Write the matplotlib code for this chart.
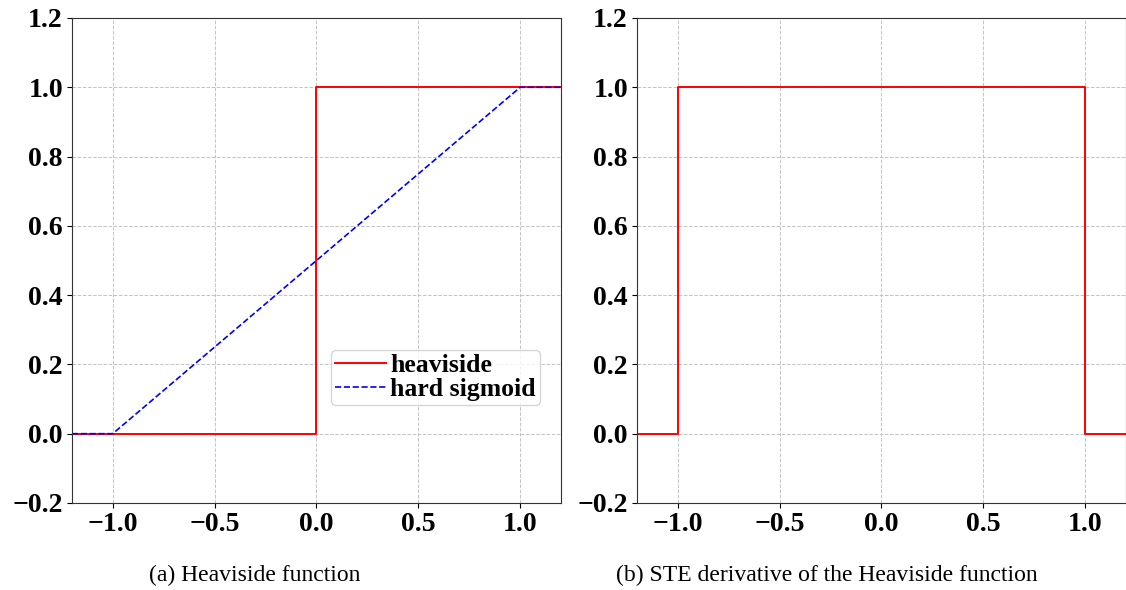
import matplotlib
matplotlib.use("Agg")
import matplotlib.pyplot as plt

plt.rcParams['font.family'] = ['Liberation Serif', 'DejaVu Serif']

# step function and hard sigmoid breakpoints
x_heaviside = [-1.2, 0.0, 0.0, 1.2]
y_heaviside = [0.0, 0.0, 1.0, 1.0]
x_hard_sigmoid = [-1.2, -1.0, 1.0, 1.2]
y_hard_sigmoid = [0.0, 0.0, 1.0, 1.0]
# STE derivative
x_ste = [-1.2, -1.0, -1.0, 1.0, 1.0, 1.2]
y_ste = [0.0, 0.0, 1.0, 1.0, 0.0, 0.0]

x_ticks = [-1.0, -0.5, 0.0, 0.5, 1.0]
y_ticks = [-0.2, 0.0, 0.2, 0.4, 0.6, 0.8, 1.0, 1.2]
captions = ['(a) Heaviside function', '(b) STE derivative of the Heaviside function']

fig = plt.figure(figsize=(11.26, 5.9), dpi=100)
ax1 = fig.add_axes([0.0639, 0.1475, 0.4343, 0.822])
ax2 = fig.add_axes([0.5657, 0.1475, 0.4343, 0.822])

ax1.plot(x_heaviside, y_heaviside, color='red', lw=1.4, label='heaviside')
ax1.plot(x_hard_sigmoid, y_hard_sigmoid, color='blue', lw=1.2, ls='--', label='hard sigmoid')
ax2.plot(x_ste, y_ste, color='red', lw=1.4)

for ax in (ax1, ax2):
    ax.set_xlim(-1.2, 1.2)
    ax.set_ylim(-0.2, 1.2)
    ax.set_xticks(x_ticks)
    ax.set_yticks(y_ticks)
    ax.set_xticklabels([f'{v:.1f}'.replace('-', '\u2212') for v in x_ticks])
    ax.set_yticklabels([f'{v:.1f}'.replace('-', '\u2212') for v in y_ticks])
    for lbl in ax.get_xticklabels() + ax.get_yticklabels():
        lbl.set_fontweight('bold')
        lbl.set_fontsize(20)
    ax.grid(True, ls='--', color='#c4c4c4', lw=0.7)
    ax.tick_params(length=3.5, width=0.8, pad=3)
    for sp in ax.spines.values():
        sp.set_color('#333333')

ax1.legend(loc='upper left', bbox_to_anchor=(0.53, 0.315), borderaxespad=0,
           prop={'weight': 'bold', 'size': 18.5}, handlelength=2.0,
           handletextpad=0.15, labelspacing=0.05, borderpad=0.15)

fig.text(0.2265, 0.025, captions[0], ha='center', va='center', fontsize=17)
fig.text(0.734, 0.025, captions[1], ha='center', va='center', fontsize=17)

fig.savefig('out.png', dpi=100)
